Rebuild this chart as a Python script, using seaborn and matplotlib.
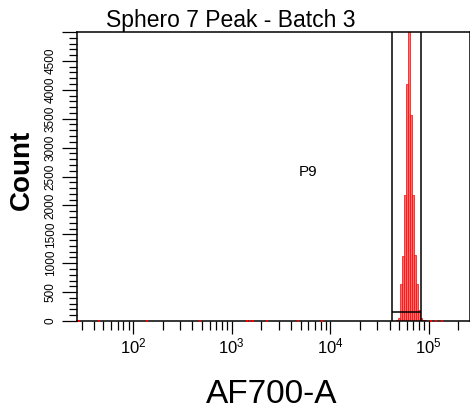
import matplotlib
matplotlib.use("Agg")
import matplotlib.pyplot as plt
import seaborn as sns
from matplotlib.ticker import LogLocator, NullFormatter, MultipleLocator, FuncFormatter

# histogram: bin centre (AF700-A intensity) and count
peak_values = [47863, 50119, 52481, 54954, 57544, 60256, 63096, 66069,
               69183, 72444, 75858, 79433, 83176, 87096, 91201]
peak_counts = [15, 60, 640, 1125, 2185, 4100, 6500, 3560,
               2180, 1150, 640, 195, 60, 25, 20]

# stray single events sitting on the baseline
speck_values = [28, 45, 140, 480, 1435, 1540, 1650, 2290, 4710, 8240,
                105000, 118000, 135000]

gate_name = "P9"
gate_bounds = [42200, 83000]
gate_level = 160

chart_title = "Sphero 7 Peak - Batch 3"
x_label = "AF700-A"
y_label = "Count"

sns.set_style("ticks", {"axes.edgecolor": "black", "xtick.color": "black",
                        "ytick.color": "black", "text.color": "black",
                        "axes.labelcolor": "black"})
plt.rcParams["font.family"] = ["Liberation Sans", "DejaVu Sans"]
plt.rcParams["mathtext.default"] = "regular"

fig = plt.figure(figsize=(4.7, 4.13), dpi=100)
ax = fig.add_axes([77 / 470, 92 / 413, 1 - 77 / 470, 289 / 413])

sns.histplot(x=peak_values, weights=peak_counts, log_scale=True,
             binwidth=0.02, binrange=(4.67, 4.97), element="bars", fill=True,
             facecolor="#ff7070", edgecolor="red", linewidth=0.5, ax=ax)

sns.scatterplot(x=speck_values, y=[0] * len(speck_values), marker="s", s=3,
                color="red", linewidth=0, clip_on=False, zorder=5,
                legend=False, ax=ax)

# gate
ax.vlines(gate_bounds, 0, 5000, color="black", linewidth=1.1, zorder=4)
ax.hlines(gate_level, gate_bounds[0], gate_bounds[1], color="black",
          linewidth=1.1, zorder=4)
ax.text(5940, 2580, gate_name, fontsize=11, ha="center", va="center")

ax.set_xlim(27, 262144)
ax.set_ylim(0, 5000)

ax.xaxis.set_major_locator(LogLocator(base=10, numticks=12))
ax.xaxis.set_minor_locator(LogLocator(base=10, subs=range(2, 10), numticks=12))
ax.xaxis.set_minor_formatter(NullFormatter())
ax.yaxis.set_major_locator(MultipleLocator(500))
ax.yaxis.set_minor_locator(MultipleLocator(100))
ax.yaxis.set_major_formatter(FuncFormatter(lambda v, p: "" if v >= 5000 else f"{v:.0f}"))

ax.tick_params(axis="x", which="major", direction="out", length=9, width=0.9,
               labelsize=12, pad=2)
ax.tick_params(axis="x", which="minor", direction="out", length=6.5, width=0.9)
ax.tick_params(axis="y", which="major", direction="out", length=11, width=0.9,
               labelsize=8.5, pad=3.5, labelrotation=90)
ax.tick_params(axis="y", which="minor", direction="out", length=6, width=0.9)
for lab in ax.get_yticklabels():
    lab.set_va("center")

for s in ax.spines.values():
    s.set_linewidth(1.1)

ax.set_title(chart_title, fontsize=16.5, x=0.392, pad=3.5)
ax.set_xlabel(x_label, fontsize=24)
ax.xaxis.set_label_coords(0.496, -0.2)
ax.set_ylabel(y_label, fontsize=20, fontweight="bold")
ax.yaxis.set_label_coords(-0.107, 0.522)

fig.savefig("out.png", dpi=100)
